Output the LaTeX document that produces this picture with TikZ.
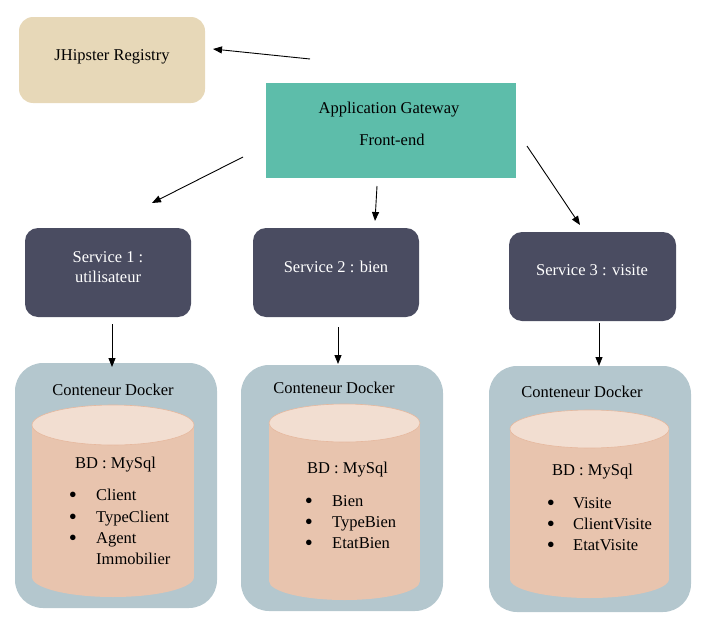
\documentclass[tikz,border=0pt]{standalone}
\usepackage{fontspec}
\setmainfont{Liberation Serif}
\usetikzlibrary{arrows.meta}
\definecolor{regc}{HTML}{E7D8B8}
\definecolor{gwc}{HTML}{5DBDAA}
\definecolor{svc}{HTML}{4A4C61}
\definecolor{dockc}{HTML}{B4C7CE}
\definecolor{cylbody}{HTML}{E8C4AE}
\definecolor{cyltop}{HTML}{F2DED1}
\definecolor{cylline}{HTML}{E6B89E}
\begin{document}
\begin{tikzpicture}[x=1pt,y=-1pt,
  box/.style={draw=none, inner sep=0pt, outer sep=0pt},
  regbox/.style={box, fill=regc, rounded corners=14pt},
  gwbox/.style={box, fill=gwc},
  svbox/.style={box, fill=svc, rounded corners=13pt},
  dockbox/.style={box, fill=dockc, rounded corners=28pt},
  txt/.style={anchor=base, inner sep=0pt, font=\fontsize{16.5}{19}\selectfont},
  wtxt/.style={txt, text=white},
  ltxt/.style={txt, anchor=base west},
  bul/.style={txt, font=\fontsize{23}{23}\selectfont},
  arr/.style={-{Triangle[length=9pt,width=7pt]}, line width=0.9pt},
  body/.style={fill=cylbody},
  top/.style={fill=cyltop, draw=cylline, line width=0.6pt}
]
\useasboundingbox (0,0) rectangle (723,637);

% Registry and gateway
\node[regbox, minimum width=186pt, minimum height=86pt] (reg) at (112,60) {};
\node[txt] (regt) at (112,60) {JHipster Registry};
\node[gwbox, minimum width=250pt, minimum height=95pt] (gw) at (391,130.5) {};
\node[txt] (gwt1) at (389,113) {Application Gateway};
\node[txt] (gwt2) at (392,145) {Front-end};

% Services
\node[svbox, minimum width=166pt, minimum height=89pt] (s1) at (108,272.5) {};
\node[wtxt] (s1t1) at (108,262) {Service 1 :};
\node[wtxt] (s1t2) at (108,282) {utilisateur};
\node[svbox, minimum width=166pt, minimum height=89pt] (s2) at (336,272.5) {};
\node[wtxt] (s2t) at (336,272) {Service 2 : bien};
\node[svbox, minimum width=167pt, minimum height=89pt] (s3) at (592.5,276.5) {};
\node[wtxt] (s3t) at (592,275) {Service 3 : visite};

% Docker containers
\node[dockbox, minimum width=202pt, minimum height=245pt] (d1) at (116,485.5) {};
\node[dockbox, minimum width=202pt, minimum height=246pt] (d2) at (342,488) {};
\node[dockbox, minimum width=202pt, minimum height=246pt] (d3) at (590,489) {};
\node[txt] (d1t) at (113,395) {Conteneur Docker};
\node[txt] (d2t) at (334,393) {Conteneur Docker};
\node[txt] (d3t) at (582,397) {Conteneur Docker};

% Cylinders
\fill[body] (32,425) rectangle (194,577);
\fill[body] (113,577) ellipse [x radius=81, y radius=20];
\filldraw[top] (113,425) ellipse [x radius=81, y radius=20];
\fill[body] (269,423) rectangle (420,581);
\fill[body] (344.5,581) ellipse [x radius=75.5, y radius=19];
\filldraw[top] (344.5,423) ellipse [x radius=75.5, y radius=19];
\fill[body] (510,429) rectangle (669,579);
\fill[body] (589.5,579) ellipse [x radius=79.5, y radius=19];
\filldraw[top] (589.5,429) ellipse [x radius=79.5, y radius=19];

% DB 1
\node[ltxt] (db1) at (75,468) {BD : MySql};
\node[bul] (b11) at (73,502) {\textbullet};
\node[ltxt] (i11) at (96,500) {Client};
\node[bul] (b12) at (73,524) {\textbullet};
\node[ltxt] (i12) at (96,522) {TypeClient};
\node[bul] (b13) at (73,545) {\textbullet};
\node[ltxt] (i13) at (96,543) {Agent};
\node[ltxt] (i14) at (96,564) {Immobilier};
% DB 2
\node[ltxt] (db2) at (307,473) {BD : MySql};
\node[bul] (b21) at (309,508) {\textbullet};
\node[ltxt] (i21) at (332,506) {Bien};
\node[bul] (b22) at (309,529) {\textbullet};
\node[ltxt] (i22) at (332,527) {TypeBien};
\node[bul] (b23) at (309,550) {\textbullet};
\node[ltxt] (i23) at (332,548) {EtatBien};
% DB 3
\node[ltxt] (db3) at (552,475) {BD : MySql};
\node[bul] (b31) at (551,510) {\textbullet};
\node[ltxt] (i31) at (573,508) {Visite};
\node[bul] (b32) at (551,531) {\textbullet};
\node[ltxt] (i32) at (573,529) {ClientVisite};
\node[bul] (b33) at (551,552) {\textbullet};
\node[ltxt] (i33) at (573,550) {EtatVisite};

% Connectors
\coordinate (gwreg) at (310,59);
\coordinate (regin) at (213,49);
\coordinate (gws1) at (243,157);
\coordinate (s1in) at (152,203);
\coordinate (gws2) at (377,186);
\coordinate (s2in) at (375,221);
\coordinate (gws3) at (527,146);
\coordinate (s3in) at (580,225);
\coordinate (s1out) at (112,324);
\coordinate (d1in) at (112,367);
\coordinate (s2out) at (338,327);
\coordinate (d2in) at (338,364);
\coordinate (s3out) at (599,323);
\coordinate (d3in) at (599,366);
\draw[arr] (gwreg) -- (regin);
\draw[arr] (gws1) -- (s1in);
\draw[arr] (gws2) -- (s2in);
\draw[arr] (gws3) -- (s3in);
\draw[arr] (s1out) -- (d1in);
\draw[arr] (s2out) -- (d2in);
\draw[arr] (s3out) -- (d3in);
\end{tikzpicture}
\end{document}
